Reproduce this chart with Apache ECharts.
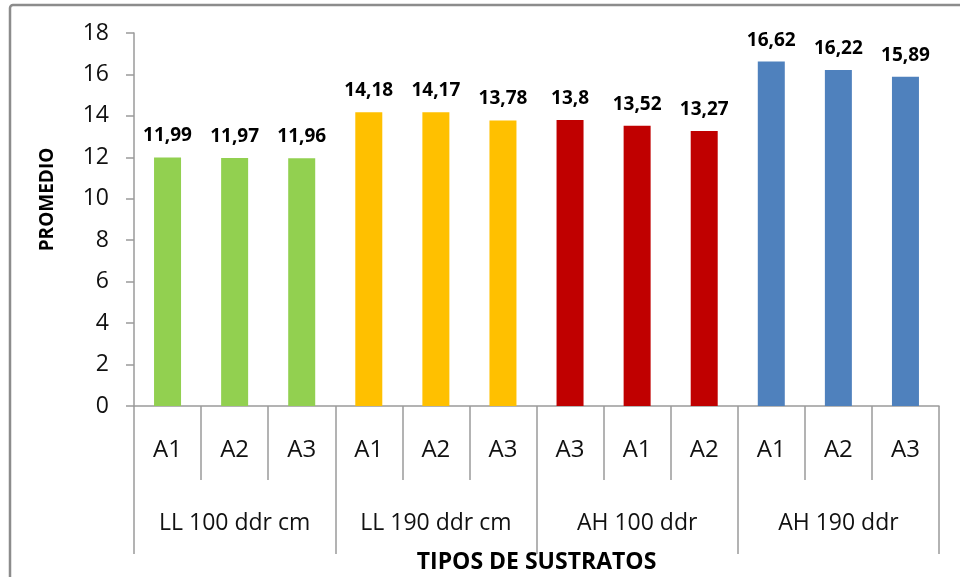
<!DOCTYPE html>
<html>
<head>
<meta charset="utf-8">
<script src="https://cdn.jsdelivr.net/npm/echarts@6/dist/echarts.min.js"></script>
<style>
  html, body { margin: 0; padding: 0; background: #ffffff; }
  #chart { width: 960px; height: 577px; }
</style>
</head>
<body>
<div id="chart"></div>
<script>
// Sub-categories (inner axis row) and their substrate groups (outer row)
const subLabels = ['A1', 'A2', 'A3', 'A1', 'A2', 'A3', 'A3', 'A1', 'A2', 'A1', 'A2', 'A3'];
const groups = ['LL 100 ddr cm', 'LL 190 ddr cm', 'AH 100 ddr', 'AH 190 ddr'];
const groupOfBar = [0, 0, 0, 1, 1, 1, 2, 2, 2, 3, 3, 3];
const promedio = [11.99, 11.97, 11.96, 14.18, 14.17, 13.78, 13.8, 13.52, 13.27, 16.62, 16.22, 15.89];
const groupColors = ['#92D050', '#FFC000', '#C00000', '#4F81BD'];
const yTicks = [0, 18, 2]; // min, max, interval

const axisGray = '#9a9a9a';
const textFont = 'Open Sans';

const chart = echarts.init(document.getElementById('chart'), null, { renderer: 'canvas' });

chart.setOption({
  backgroundColor: '#ffffff',
  animation: false,
  grid: { left: 134, right: 21, top: 33, bottom: 171, containLabel: false, outerBoundsMode: 'none' },
  graphic: [
    {
      type: 'rect',
      shape: { x: 10, y: 5, width: 1000, height: 620, r: 3 },
      style: { fill: 'none', stroke: '#8c8c8c', lineWidth: 2.5 },
      silent: true
    }
  ],
  xAxis: [
    {
      type: 'category',
      data: subLabels,
      position: 'bottom',
      boundaryGap: true,
      axisLine: { show: true, lineStyle: { color: axisGray, width: 1.5 } },
      axisTick: { show: true, interval: 0, length: 74, lineStyle: { color: axisGray, width: 1.5 } },
      axisLabel: { interval: 0, margin: 32, color: '#111', fontFamily: textFont, fontSize: 24 }
    },
    {
      type: 'category',
      data: groups,
      position: 'bottom',
      offset: 74,
      boundaryGap: true,
      axisLine: { show: false },
      axisTick: { show: true, interval: 0, length: 74, lineStyle: { color: axisGray, width: 1.5 } },
      axisLabel: { interval: 0, margin: 32, color: '#111', fontFamily: textFont, fontSize: 23 },
      name: 'TIPOS DE SUSTRATOS',
      nameLocation: 'middle',
      nameGap: 71,
      nameTextStyle: { color: '#000', fontFamily: textFont, fontWeight: 'bold', fontSize: 23 }
    }
  ],
  yAxis: {
    type: 'value',
    min: yTicks[0],
    max: yTicks[1],
    interval: yTicks[2],
    axisLine: { show: true, lineStyle: { color: axisGray, width: 1.5 } },
    axisTick: { show: true, length: 8, lineStyle: { color: axisGray, width: 1.5 } },
    splitLine: { show: false },
    axisLabel: { margin: 25, color: '#111', fontFamily: textFont, fontSize: 23 },
    name: 'PROMEDIO',
    nameLocation: 'middle',
    nameRotate: 90,
    nameGap: 77,
    nameTextStyle: { color: '#000', fontFamily: textFont, fontWeight: 'bold', fontSize: 19, padding: [0, 0, 0, 40] }
  },
  series: [
    {
      type: 'bar',
      xAxisIndex: 0,
      barWidth: 27,
      data: promedio.map((v, i) => ({
        value: v,
        itemStyle: { color: groupColors[groupOfBar[i]] }
      })),
      label: {
        show: true,
        position: 'top',
        distance: 12,
        color: '#000',
        fontFamily: textFont,
        fontWeight: 'bold',
        fontSize: 19,
        formatter: p => String(p.value).replace('.', ',')
      }
    }
  ]
});
</script>
</body>
</html>
